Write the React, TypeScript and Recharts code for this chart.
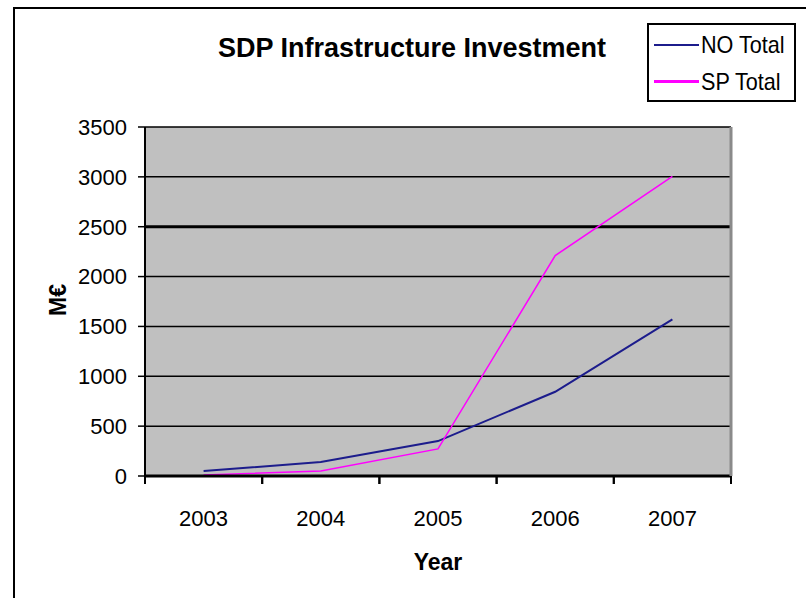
import React from "react";
import {
  LineChart,
  Line,
  XAxis,
  YAxis,
  CartesianGrid,
  ReferenceLine,
} from "recharts";

const years = ["2003", "2004", "2005", "2006", "2007"];
const noTotal = [50, 140, 350, 845, 1570];
const spTotal = [10, 50, 272, 2210, 3005];
const yTicks = [0, 500, 1000, 1500, 2000, 2500, 3000, 3500];

const data = years.map((year, i) => ({
  year,
  no: noTotal[i],
  sp: spTotal[i],
}));

const FONT = '"Liberation Sans", Arial, sans-serif';
const HALF = (731 - 145) / 5 / 2;

function XTick(props: any) {
  const { x, y, payload } = props;
  return (
    <g>
      <line x1={x - HALF} x2={x - HALF} y1={y} y2={y + 8} stroke="#000" strokeWidth={2} />
      <line x1={x + HALF} x2={x + HALF} y1={y} y2={y + 8} stroke="#000" strokeWidth={2} />
      <text
        x={x}
        y={y + 42}
        textAnchor="middle"
        dominantBaseline="central"
        fontSize={22}
        fontFamily={FONT}
        fill="#000"
      >
        {payload.value}
      </text>
    </g>
  );
}

const legendText: React.CSSProperties = {
  position: "absolute",
  left: 52,
  lineHeight: "30px",
  whiteSpace: "nowrap",
  transform: "scaleX(0.9)",
  transformOrigin: "left center",
};

export default function App() {
  return (
    <div
      style={{
        position: "absolute",
        left: 0,
        top: 0,
        width: 806,
        height: 598,
        overflow: "hidden",
        background: "#fff",
        fontFamily: FONT,
      }}
    >
      {/* outer frame runs off the right and bottom edges */}
      <div
        style={{
          position: "absolute",
          left: 13,
          top: 7,
          width: 820,
          height: 620,
          border: "2px solid #000",
        }}
      />
      <div
        style={{
          position: "absolute",
          left: 212,
          top: 33,
          width: 400,
          textAlign: "center",
          fontSize: 27,
          fontWeight: "bold",
          color: "#000",
          whiteSpace: "nowrap",
        }}
      >
        SDP Infrastructure Investment
      </div>
      <div
        style={{
          position: "absolute",
          left: 647,
          top: 23,
          width: 145,
          height: 75,
          border: "2px solid #000",
          fontSize: 24,
          color: "#000",
        }}
      >
        <div style={{ position: "absolute", left: 5, top: 19, width: 45, height: 2, background: "#1c1c8c" }} />
        <div style={{ ...legendText, top: 5 }}>NO Total</div>
        <div style={{ position: "absolute", left: 5, top: 55, width: 45, height: 3, background: "#ff00ff" }} />
        <div style={{ ...legendText, top: 42 }}>SP Total</div>
      </div>
      <div
        style={{
          position: "absolute",
          left: 58,
          top: 300,
          transform: "translate(-50%, -50%) rotate(-90deg)",
          fontSize: 23,
          fontWeight: "bold",
          color: "#000",
        }}
      >
        M€
      </div>
      <div
        style={{
          position: "absolute",
          left: 438,
          top: 562,
          transform: "translate(-50%, -50%)",
          fontSize: 23,
          fontWeight: "bold",
          color: "#000",
        }}
      >
        Year
      </div>
      <div style={{ position: "absolute", left: 0, top: 0 }}>
        <LineChart
          width={806}
          height={598}
          data={data}
          margin={{ top: 127, right: 74, bottom: 0, left: 0 }}
        >
          <CartesianGrid vertical={false} fill="#c0c0c0" stroke="#000" strokeWidth={1.5} />
          <ReferenceLine y={2500} stroke="#000" strokeWidth={3} />
          <XAxis
            dataKey="year"
            padding={{ left: HALF, right: HALF }}
            axisLine={{ stroke: "#000", strokeWidth: 3 }}
            tickLine={false}
            tickSize={0}
            tickMargin={0}
            interval={0}
            tick={<XTick />}
            height={122}
          />
          <YAxis
            domain={[0, 3500]}
            ticks={yTicks}
            width={145}
            axisLine={{ stroke: "#000", strokeWidth: 2 }}
            tickLine={{ stroke: "#000", strokeWidth: 1.5 }}
            tickSize={7}
            tickMargin={11}
            tick={{ fill: "#000", fontSize: 22, fontFamily: FONT }}
          />
          <YAxis
            yAxisId="r"
            orientation="right"
            width={1}
            axisLine={{ stroke: "#8a8a8a", strokeWidth: 3 }}
            tick={false}
            tickLine={false}
          />
          <Line
            dataKey="no"
            stroke="#1c1c8c"
            strokeWidth={2}
            dot={false}
            isAnimationActive={false}
          />
          <Line
            dataKey="sp"
            stroke="#ff00ff"
            strokeWidth={1.5}
            dot={false}
            isAnimationActive={false}
          />
        </LineChart>
      </div>
    </div>
  );
}
